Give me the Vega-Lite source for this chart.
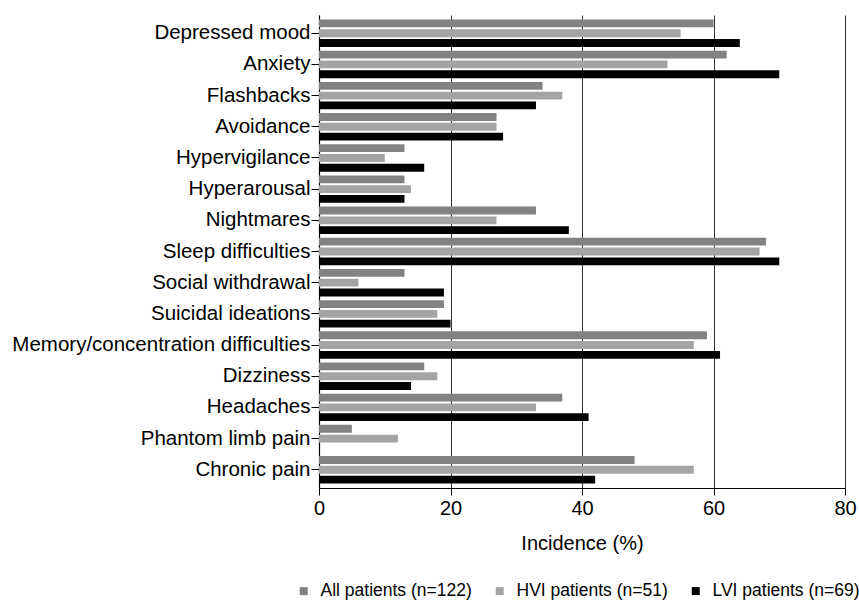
{
  "$schema": "https://vega.github.io/schema/vega-lite/v6.json",
  "autosize": {"type": "none"},
  "padding": {"left": 319, "top": 15, "right": 14, "bottom": 112},
  "width": 526,
  "height": 473,
  "background": "white",
  "config": {
    "view": {"stroke": null},
    "font": "Liberation Sans",
    "axis": {"labelColor": "black", "titleColor": "black", "domainColor": "black", "tickColor": "black"}
  },
  "data": {
    "values": [
      {"symptom": "Depressed mood", "group": "All patients (n=122)", "value": 60},
      {"symptom": "Depressed mood", "group": "HVI patients (n=51)", "value": 55},
      {"symptom": "Depressed mood", "group": "LVI patients (n=69)", "value": 64},
      {"symptom": "Anxiety", "group": "All patients (n=122)", "value": 62},
      {"symptom": "Anxiety", "group": "HVI patients (n=51)", "value": 53},
      {"symptom": "Anxiety", "group": "LVI patients (n=69)", "value": 70},
      {"symptom": "Flashbacks", "group": "All patients (n=122)", "value": 34},
      {"symptom": "Flashbacks", "group": "HVI patients (n=51)", "value": 37},
      {"symptom": "Flashbacks", "group": "LVI patients (n=69)", "value": 33},
      {"symptom": "Avoidance", "group": "All patients (n=122)", "value": 27},
      {"symptom": "Avoidance", "group": "HVI patients (n=51)", "value": 27},
      {"symptom": "Avoidance", "group": "LVI patients (n=69)", "value": 28},
      {"symptom": "Hypervigilance", "group": "All patients (n=122)", "value": 13},
      {"symptom": "Hypervigilance", "group": "HVI patients (n=51)", "value": 10},
      {"symptom": "Hypervigilance", "group": "LVI patients (n=69)", "value": 16},
      {"symptom": "Hyperarousal", "group": "All patients (n=122)", "value": 13},
      {"symptom": "Hyperarousal", "group": "HVI patients (n=51)", "value": 14},
      {"symptom": "Hyperarousal", "group": "LVI patients (n=69)", "value": 13},
      {"symptom": "Nightmares", "group": "All patients (n=122)", "value": 33},
      {"symptom": "Nightmares", "group": "HVI patients (n=51)", "value": 27},
      {"symptom": "Nightmares", "group": "LVI patients (n=69)", "value": 38},
      {"symptom": "Sleep difficulties", "group": "All patients (n=122)", "value": 68},
      {"symptom": "Sleep difficulties", "group": "HVI patients (n=51)", "value": 67},
      {"symptom": "Sleep difficulties", "group": "LVI patients (n=69)", "value": 70},
      {"symptom": "Social withdrawal", "group": "All patients (n=122)", "value": 13},
      {"symptom": "Social withdrawal", "group": "HVI patients (n=51)", "value": 6},
      {"symptom": "Social withdrawal", "group": "LVI patients (n=69)", "value": 19},
      {"symptom": "Suicidal ideations", "group": "All patients (n=122)", "value": 19},
      {"symptom": "Suicidal ideations", "group": "HVI patients (n=51)", "value": 18},
      {"symptom": "Suicidal ideations", "group": "LVI patients (n=69)", "value": 20},
      {"symptom": "Memory/concentration difficulties", "group": "All patients (n=122)", "value": 59},
      {"symptom": "Memory/concentration difficulties", "group": "HVI patients (n=51)", "value": 57},
      {"symptom": "Memory/concentration difficulties", "group": "LVI patients (n=69)", "value": 61},
      {"symptom": "Dizziness", "group": "All patients (n=122)", "value": 16},
      {"symptom": "Dizziness", "group": "HVI patients (n=51)", "value": 18},
      {"symptom": "Dizziness", "group": "LVI patients (n=69)", "value": 14},
      {"symptom": "Headaches", "group": "All patients (n=122)", "value": 37},
      {"symptom": "Headaches", "group": "HVI patients (n=51)", "value": 33},
      {"symptom": "Headaches", "group": "LVI patients (n=69)", "value": 41},
      {"symptom": "Phantom limb pain", "group": "All patients (n=122)", "value": 5},
      {"symptom": "Phantom limb pain", "group": "HVI patients (n=51)", "value": 12},
      {"symptom": "Phantom limb pain", "group": "LVI patients (n=69)", "value": 0},
      {"symptom": "Chronic pain", "group": "All patients (n=122)", "value": 48},
      {"symptom": "Chronic pain", "group": "HVI patients (n=51)", "value": 57},
      {"symptom": "Chronic pain", "group": "LVI patients (n=69)", "value": 42}
    ]
  },
  "mark": {"type": "bar"},
  "encoding": {
    "y": {
      "field": "symptom",
      "type": "nominal",
      "sort": ["Depressed mood", "Anxiety", "Flashbacks", "Avoidance", "Hypervigilance", "Hyperarousal", "Nightmares", "Sleep difficulties", "Social withdrawal", "Suicidal ideations", "Memory/concentration difficulties", "Dizziness", "Headaches", "Phantom limb pain", "Chronic pain"],
      "scale": {"paddingInner": 0.12, "paddingOuter": 0.145},
      "axis": {"title": null, "labelFontSize": 20.5, "tickSize": 8, "labelPadding": 1, "domainWidth": 1.2, "labelLimit": 400}
    },
    "yOffset": {
      "field": "group",
      "type": "nominal",
      "sort": ["All patients (n=122)", "HVI patients (n=51)", "LVI patients (n=69)"],
      "scale": {"paddingInner": 0.2, "paddingOuter": 0}
    },
    "x": {
      "field": "value",
      "type": "quantitative",
      "scale": {"domain": [0, 80], "nice": false},
      "axis": {
        "title": "Incidence (%)",
        "values": [0, 20, 40, 60, 80],
        "labelFontSize": 20,
        "labelFlush": false,
        "titleFontSize": 20,
        "titleFontWeight": "normal",
        "titlePadding": 15,
        "tickSize": 7,
        "labelPadding": 3,
        "domainWidth": 1.2,
        "grid": true,
        "gridColor": "#333333",
        "gridWidth": 1,
        "gridOpacity": 1
      }
    },
    "color": {
      "field": "group",
      "type": "nominal",
      "sort": ["All patients (n=122)", "HVI patients (n=51)", "LVI patients (n=69)"],
      "scale": {"range": ["#828282", "#a4a4a4", "#000000"]},
      "legend": {
        "title": null,
        "orient": "none",
        "direction": "horizontal",
        "columns": 3,
        "gridAlign": "each",
        "padding": 0,
        "legendX": -24,
        "legendY": 567,
        "symbolType": "square",
        "symbolSize": 64,
        "symbolStrokeWidth": 0,
        "labelFontSize": 17.5,
        "labelColor": "black",
        "labelOffset": 8,
        "columnPadding": 19
      }
    }
  }
}
